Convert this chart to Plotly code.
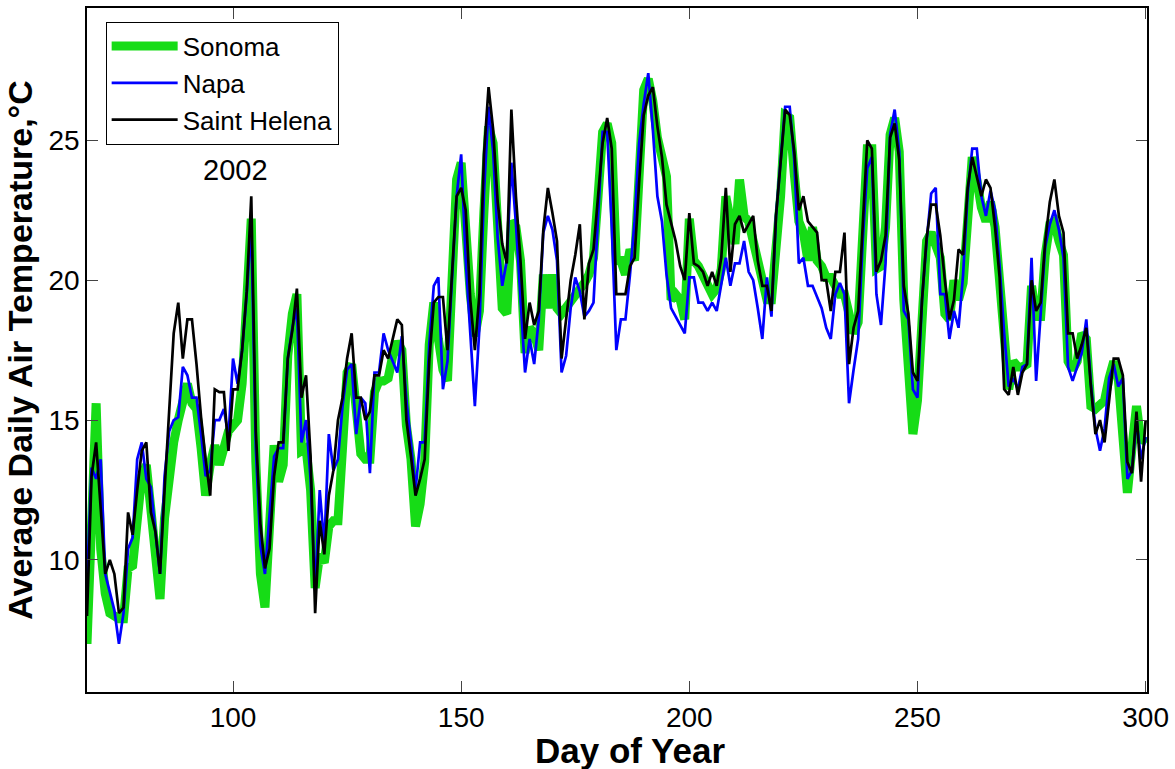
import plotly.graph_objects as go

days = list(range(68, 301))

sonoma = [
    7.0, 12.0, 15.6, 10.4, 8.8, 8.1, 8.0, 7.9, 7.9, 9.7,
    9.8, 11.5, 13.0, 13.4, 11.7, 10.0, 8.6, 11.5, 13.0, 14.2,
    15.0, 15.6, 16.3, 15.6, 15.4, 14.0, 12.3, 13.4, 14.1, 13.4,
    14.2, 14.6, 14.8, 15.0, 16.3, 19.0, 22.2, 13.5, 9.5, 8.3,
    11.8, 14.1, 12.8, 13.4, 17.3, 18.8, 19.5, 13.9, 14.0, 12.5,
    9.0, 10.2, 9.9, 11.2, 11.4, 11.4, 14.0, 16.7, 17.0, 15.4,
    13.8, 13.6, 13.6, 16.0, 16.4, 16.4, 16.5, 17.3, 17.8, 17.5,
    14.8, 13.6, 11.2, 12.0, 13.5, 17.7, 19.2, 17.9, 16.8, 16.4,
    20.4, 23.6, 24.2, 21.7, 19.5, 18.0, 18.9, 22.5, 25.5, 24.9,
    22.0, 19.0, 18.8, 22.1, 21.9, 20.7, 17.4, 18.3, 18.1, 17.5,
    20.2, 19.0, 20.2, 19.0, 18.8, 19.0, 19.3, 19.5, 19.6, 19.9,
    20.2, 20.8, 23.0, 25.3, 25.6, 24.9, 20.7, 20.7, 20.2, 21.1,
    20.7, 24.5, 26.8, 27.2, 26.4, 25.1, 24.3, 23.7, 19.3, 19.5,
    19.3, 18.6, 22.2, 20.7, 20.5, 20.2, 19.8, 19.5, 19.7, 20.4,
    23.0, 22.3, 21.3, 23.6, 22.3, 22.1, 21.4, 20.7, 19.8, 19.3,
    19.3, 20.8, 23.0, 25.9, 25.8, 23.8, 22.1, 21.7, 20.7, 21.9,
    20.7, 20.5, 20.1, 20.1, 19.8, 19.5, 19.5, 18.6, 18.1, 18.5,
    21.5, 24.7, 24.7, 20.4, 20.5, 21.9, 25.2, 25.8, 24.6, 19.3,
    16.9, 14.5, 15.7, 18.7, 21.4, 21.7, 21.1, 20.8, 18.8, 18.6,
    20.0, 19.3, 19.9, 22.8, 24.4, 23.6, 22.6, 22.1, 22.8, 21.9,
    20.2, 18.1, 16.1, 17.1, 16.9, 16.9, 17.0, 19.8, 18.7, 18.7,
    20.9, 22.0, 22.1, 21.4, 20.9, 17.1, 16.8, 17.1, 18.1, 17.9,
    15.5, 15.4, 15.6, 15.7, 16.5, 17.1, 16.5, 13.9, 12.4, 14.0,
    15.5, 14.2, 14.4,
]

napa = [
    9.2, 13.3, 12.9, 13.6, 9.5, 8.8, 8.2, 7.0, 8.1, 10.4,
    10.8, 13.6, 14.2, 12.9, 12.6, 11.0, 9.5, 13.0, 14.6, 15.0,
    15.1, 16.9, 16.6, 15.8, 15.8, 14.5, 13.0, 13.2, 15.0, 15.0,
    15.4, 14.4, 17.2, 16.3, 17.5, 19.5, 22.0, 14.0, 10.5, 9.5,
    11.5, 13.7, 14.0, 14.0, 17.2, 18.3, 19.0, 14.2, 15.0, 12.9,
    8.9, 12.5, 10.5, 14.5, 13.2, 13.6, 15.5, 16.8, 17.0, 14.5,
    15.8, 15.6, 13.1, 16.7, 16.7, 18.1, 17.5, 17.1, 16.7, 18.0,
    15.7, 14.2, 12.5, 14.2, 14.2, 17.7, 19.8, 20.1, 16.1, 17.1,
    20.1, 23.0, 24.5, 20.7, 18.1, 15.5, 18.3, 23.1, 26.2, 24.6,
    21.5, 19.8, 20.7, 24.2, 22.0, 19.5, 16.7, 17.9, 17.0, 18.6,
    21.7, 22.3, 21.8, 20.7, 16.7, 17.3, 19.0, 20.1, 19.6, 18.7,
    18.9, 19.2, 22.1, 25.3, 25.3, 21.9, 17.5, 18.6, 18.6, 20.2,
    22.1, 24.9, 26.3, 27.4, 25.4, 23.0, 22.1, 20.2, 19.0, 18.7,
    18.4, 18.1, 20.1, 20.1, 19.2, 19.2, 18.9, 19.2, 18.9, 19.8,
    20.8, 19.8, 20.6, 20.6, 21.4, 20.3, 20.0, 19.0, 17.9, 20.1,
    18.7, 22.3, 24.3, 26.2, 26.2, 24.3, 20.6, 20.8, 19.8, 19.8,
    19.4, 19.0, 18.3, 17.9, 19.5, 19.9, 19.5, 15.6, 16.8, 17.9,
    21.4, 24.0, 24.4, 19.5, 18.4, 20.6, 25.2, 26.1, 24.6, 18.9,
    18.6, 16.1, 15.8, 19.3, 21.4, 23.1, 23.3, 19.5, 19.5, 17.9,
    18.9, 18.3, 20.2, 23.1, 24.7, 24.7, 23.0, 22.3, 23.2, 22.5,
    20.5, 18.1, 16.2, 16.5, 16.1, 16.9, 17.0, 20.8, 16.4, 19.0,
    21.2, 22.0, 22.5, 21.8, 20.8, 16.9, 16.4, 16.9, 17.4, 18.6,
    16.3, 14.7, 13.9, 14.7, 16.5, 17.0, 16.2, 16.5, 12.9, 13.2,
    15.0, 13.6, 14.4,
]

saint_helena = [
    8.0, 13.0, 14.2, 12.0, 9.5, 10.0, 9.5, 8.1, 8.3, 11.7,
    10.9, 12.5, 13.9, 14.2, 11.7, 11.0, 9.5, 12.5, 15.3, 18.1,
    19.2, 17.2, 18.6, 18.6, 17.0, 15.1, 13.6, 12.3, 16.1, 16.0,
    16.0, 13.9, 16.1, 16.1, 17.5, 19.6, 23.0, 14.6, 11.3, 9.7,
    10.4, 13.0, 14.2, 14.2, 17.2, 18.2, 19.7, 15.8, 16.6, 13.7,
    8.1, 11.4, 10.2, 12.3, 13.2, 15.0, 15.8, 17.2, 18.1, 15.8,
    15.8, 15.0, 15.3, 16.6, 16.6, 17.5, 17.2, 17.9, 18.6, 18.4,
    15.0, 13.7, 12.3, 12.9, 13.6, 17.1, 19.2, 19.4, 19.4, 17.5,
    20.1, 23.0, 23.3, 22.5, 19.3, 17.5, 19.5, 24.5, 26.9, 25.4,
    22.8, 21.3, 20.6, 26.1, 23.0, 20.7, 17.9, 19.2, 18.4, 18.9,
    21.8, 23.3, 22.4, 21.4, 17.2, 18.6, 20.0, 20.9, 22.0, 18.6,
    20.6, 21.1, 23.0, 24.9, 25.8, 24.7, 19.5, 19.5, 19.5, 20.5,
    20.8, 23.5, 25.9, 26.6, 26.9, 25.5, 24.4, 22.7, 22.0, 21.4,
    20.5, 20.0, 22.4, 20.6, 20.5, 20.3, 19.8, 20.3, 19.8, 20.8,
    23.3, 20.3, 22.0, 22.3, 21.7, 22.0, 22.3, 20.7, 19.8, 19.8,
    18.9, 22.3, 24.3, 26.1, 25.9, 24.6, 22.5, 23.0, 22.1, 21.9,
    21.7, 20.0, 20.0, 18.9, 20.3, 20.3, 21.7, 17.0, 18.3, 18.9,
    21.9, 25.0, 24.7, 20.3, 20.7, 21.6, 25.1, 25.6, 24.3, 19.8,
    18.8, 16.7, 16.4, 19.3, 21.5, 22.7, 22.7, 21.6, 20.0, 18.6,
    19.3, 21.1, 20.9, 23.3, 24.4, 23.7, 23.0, 23.6, 23.3, 21.9,
    20.1, 16.1, 15.9, 16.9, 15.9, 16.7, 17.0, 20.0, 18.9, 19.2,
    21.4, 22.8, 23.6, 22.3, 21.7, 18.1, 18.1, 17.2, 17.7, 18.3,
    16.2, 14.5, 15.0, 14.2, 15.7, 17.2, 17.2, 16.6, 13.5, 13.1,
    15.3, 12.8, 15.0,
]

x_ticks = [100, 150, 200, 250, 300]
y_ticks = [10, 15, 20, 25]
year_label = "2002"

FONT = "Liberation Sans, Arial, sans-serif"

fig = go.Figure()
fig.add_trace(go.Scatter(x=days, y=sonoma, mode="lines", name="Sonoma",
                         line=dict(color="#16dc16", width=9)))
fig.add_trace(go.Scatter(x=days, y=napa, mode="lines", name="Napa",
                         line=dict(color="#0000ff", width=2.7)))
fig.add_trace(go.Scatter(x=days, y=saint_helena, mode="lines", name="Saint Helena",
                         line=dict(color="#000000", width=2.7)))

fig.add_annotation(x=100.6, y=23.95, xref="x", yref="y", text=year_label,
                   showarrow=False, font=dict(family=FONT, size=29, color="black"))

# x-axis title placed as annotation for precise centring
fig.add_annotation(x=0.512, y=-0.085, xref="paper", yref="paper",
                   text="<b>Day of Year</b>", showarrow=False,
                   xanchor="center", yanchor="middle",
                   font=dict(family=FONT, size=35, color="black"))

axis_common = dict(
    showline=True, linecolor="black", linewidth=1.5, mirror="ticks",
    ticks="inside", ticklen=11, tickwidth=1, tickcolor="#444",
    showgrid=False, zeroline=False,
    tickfont=dict(family=FONT, size=28, color="black"),
)

fig.update_layout(
    width=1175, height=769,
    margin=dict(l=87, r=26, t=6, b=77),
    paper_bgcolor="white", plot_bgcolor="white",
    font=dict(family=FONT, color="black"),
    xaxis=dict(range=[68, 300.3], tickvals=x_ticks, **axis_common),
    yaxis=dict(range=[5.28, 29.73], tickvals=y_ticks,
               title=dict(text="<b>Average Daily Air Temperature,°C</b>",
                          font=dict(family=FONT, size=34), standoff=6),
               **axis_common),
    legend=dict(x=0.0176, y=0.98, xanchor="left", yanchor="top",
                bgcolor="white", bordercolor="black", borderwidth=1,
                font=dict(family=FONT, size=26, color="black"),
                itemwidth=66, tracegroupgap=0),
    showlegend=True,
)

fig.write_html("out.html")
